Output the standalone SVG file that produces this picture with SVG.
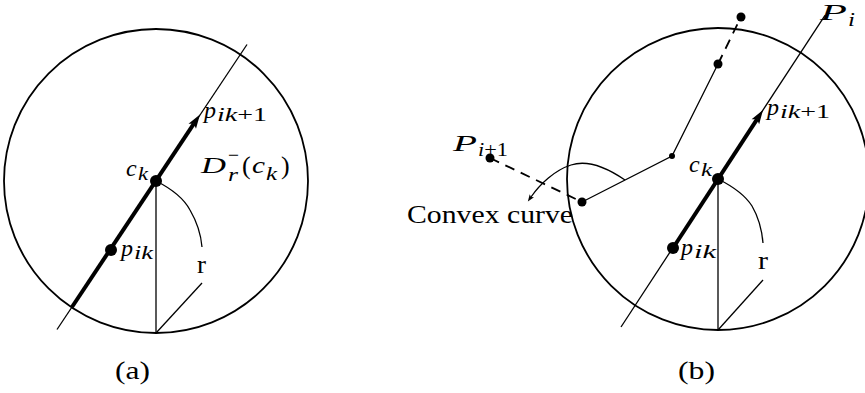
<svg xmlns="http://www.w3.org/2000/svg" width="865" height="393" viewBox="0 0 865 393">
<defs>
<style>
.circ{fill:none;stroke:#000;stroke-width:1.8}
.thin{fill:none;stroke:#000;stroke-width:1.3}
.thick{fill:none;stroke:#000;stroke-width:4}
.dash{fill:none;stroke:#000;stroke-width:1.8;stroke-dasharray:10 7}
.dot{fill:#000}
text{font-family:"Liberation Serif","Times New Roman",serif;fill:#000;font-weight:400}
.mi{font-style:italic;font-size:24px}
.si{font-style:italic;font-size:18px}
.sr{font-style:normal;font-size:18px}
.rm{font-size:26px}
</style>
<marker id="ah" markerUnits="userSpaceOnUse" markerWidth="16" markerHeight="12" viewBox="0 -6 16 12" refX="3" refY="0" orient="auto" overflow="visible">
<path d="M0,-4.5 L14,0 L0,4.5 L3,0 Z" fill="#000"/>
</marker>
<marker id="ahs" markerUnits="userSpaceOnUse" markerWidth="9" markerHeight="7" viewBox="0 -3.5 9 7" refX="1.5" refY="0" orient="auto" overflow="visible">
<path d="M0,-2.6 L7,0 L0,2.6 L1.5,0 Z" fill="#000"/>
</marker>
</defs>
<rect width="865" height="393" fill="#fff"/>

<g id="connectors">
<!-- panel (a) -->
<line class="thin" x1="57" y1="329.5" x2="247" y2="44.5"/>
<line class="thick" x1="72" y1="307" x2="193.9" y2="123.7" marker-end="url(#ah)"/>
<line class="thin" x1="156" y1="181" x2="156" y2="333"/>
<path class="thin" d="M156,181 C170,188 183,197 190,210 C197,222 201,235 202,247"/>
<line class="thin" x1="202" y1="283" x2="156" y2="333"/>
<!-- panel (b) -->
<line class="thin" x1="621" y1="327" x2="825" y2="15.3"/>
<line class="thick" x1="673" y1="248" x2="757" y2="119.3" marker-end="url(#ah)"/>
<line class="thin" x1="718" y1="179" x2="718" y2="330"/>
<path class="thin" d="M718,179 C732,186 745,195 752,206 C759,218 762,231 763,243"/>
<line class="thin" x1="763" y1="280" x2="718" y2="330"/>
<polyline class="thin" points="582,202 672,156 718,64"/>
<line class="dash" x1="718" y1="64" x2="741" y2="17" stroke-dasharray="0 6 12 10 20"/>
<line class="dash" x1="490" y1="158" x2="582" y2="202"/>
<path class="thin" d="M625,180 C606,167 586,160 571,165 C555,170 540,184 531,197" marker-end="url(#ahs)"/>
</g>

<g id="disk-a">
<circle class="circ" cx="156" cy="181" r="152"/>
</g>
<g id="ck-a">
<circle class="dot" cx="156" cy="181" r="6"/>
<text class="mi" x="126" y="176">c</text>
<text class="si" x="138" y="180" textLength="10" lengthAdjust="spacingAndGlyphs">k</text>
</g>
<g id="pik-a">
<circle class="dot" cx="111" cy="250" r="6"/>
<text class="mi" x="121" y="256">p</text>
<text class="si" x="134" y="259" textLength="19" lengthAdjust="spacingAndGlyphs">ik</text>
</g>
<g id="pik1-a">
<text class="mi" x="204" y="118">p</text>
<text class="si" x="217" y="121" textLength="50" lengthAdjust="spacingAndGlyphs">ik<tspan class="sr">+1</tspan></text>
</g>
<g id="D-a">
<text class="mi" x="201" y="173" font-size="26" textLength="25" lengthAdjust="spacingAndGlyphs">D</text>
<text class="sr" x="228" y="161" textLength="11" lengthAdjust="spacingAndGlyphs">−</text>
<text class="si" x="228" y="181" textLength="10" lengthAdjust="spacingAndGlyphs">r</text>
<text class="rm" x="242" y="174">(</text>
<text class="mi" x="252" y="173" textLength="13" lengthAdjust="spacingAndGlyphs">c</text>
<text class="si" x="266" y="180" textLength="11" lengthAdjust="spacingAndGlyphs">k</text>
<text class="rm" x="281" y="174">)</text>
</g>
<g id="r-a">
<text class="rm" x="197" y="273" font-size="25" textLength="9" lengthAdjust="spacingAndGlyphs">r</text>
</g>
<g id="caption-a">
<text class="rm" x="115" y="379" textLength="35" lengthAdjust="spacingAndGlyphs">(a)</text>
</g>

<g id="disk-b">
<circle class="circ" cx="718" cy="179" r="151"/>
</g>
<g id="ck-b">
<circle class="dot" cx="718" cy="179" r="6"/>
<text class="mi" x="689" y="172">c</text>
<text class="si" x="701" y="176" textLength="11" lengthAdjust="spacingAndGlyphs">k</text>
</g>
<g id="pik-b">
<circle class="dot" cx="673" cy="248" r="6"/>
<text class="mi" x="681" y="255">p</text>
<text class="si" x="694" y="258" textLength="22" lengthAdjust="spacingAndGlyphs">ik</text>
</g>
<g id="pik1-b">
<text class="mi" x="767" y="115">p</text>
<text class="si" x="780" y="118" textLength="50" lengthAdjust="spacingAndGlyphs">ik<tspan class="sr">+1</tspan></text>
</g>
<g id="Pi-b">
<text class="mi" x="820" y="20" font-size="23" textLength="27" lengthAdjust="spacingAndGlyphs">P</text>
<text class="si" x="848" y="26" textLength="7" lengthAdjust="spacingAndGlyphs">i</text>
</g>
<g id="Pi1-b">
<circle class="dot" cx="490" cy="158" r="4.5"/>
<text class="mi" x="453" y="151" font-size="25" textLength="24" lengthAdjust="spacingAndGlyphs">P</text>
<text class="si" x="478" y="156" textLength="30" lengthAdjust="spacingAndGlyphs">i<tspan class="sr">+1</tspan></text>
</g>
<g id="poly-b">
<circle class="dot" cx="582" cy="202" r="4.5"/>
<circle class="dot" cx="672" cy="156" r="3"/>
<circle class="dot" cx="718" cy="64" r="4.5"/>
<circle class="dot" cx="741" cy="17" r="4.5"/>
</g>
<g id="convex-label">
<text class="rm" x="407" y="223" font-size="25" textLength="166" lengthAdjust="spacingAndGlyphs">Convex curve</text>
</g>
<g id="r-b">
<text class="rm" x="758" y="269" font-size="25" textLength="10" lengthAdjust="spacingAndGlyphs">r</text>
</g>
<g id="caption-b">
<text class="rm" x="678" y="379" textLength="37" lengthAdjust="spacingAndGlyphs">(b)</text>
</g>
</svg>
